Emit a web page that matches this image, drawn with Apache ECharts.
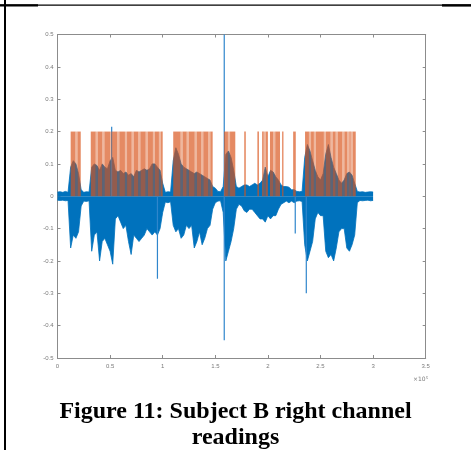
<!DOCTYPE html>
<html>
<head>
<meta charset="utf-8">
<script src="https://cdn.jsdelivr.net/npm/echarts@6/dist/echarts.min.js"></script>
<style>
  html, body { margin: 0; padding: 0; background: #fff; }
  #chart { width: 471px; height: 450px; }
</style>
</head>
<body>
<div id="chart"></div>
<script>
// x in units of 1e5 samples, one envelope value every STEP
const STEP = 0.025;

// upper envelope of the signal
const upper = [
  0.013, 0.014, 0.012, 0.015, 0.012, 0.09, 0.11, 0.10, 0.07, 0.02,
  0.012, 0.014, 0.013, 0.09, 0.10, 0.095, 0.08, 0.10, 0.09, 0.085,
  0.11, 0.12, 0.08, 0.075, 0.08, 0.07, 0.075, 0.065, 0.07, 0.06,
  0.08, 0.075, 0.08, 0.085, 0.08, 0.085, 0.10, 0.10, 0.09, 0.08,
  0.04, 0.012, 0.014, 0.013, 0.11, 0.15, 0.13, 0.10, 0.09, 0.085,
  0.08, 0.075, 0.07, 0.075, 0.07, 0.065, 0.06, 0.055, 0.05, 0.03,
  0.025, 0.015, 0.014, 0.03, 0.13, 0.14, 0.12, 0.08, 0.03, 0.025,
  0.03, 0.035, 0.035, 0.03, 0.035, 0.04, 0.035, 0.04, 0.05, 0.09,
  0.06, 0.08, 0.075, 0.06, 0.05, 0.035, 0.03, 0.03, 0.028, 0.02,
  0.02, 0.015, 0.014, 0.015, 0.12, 0.16, 0.14, 0.11, 0.08, 0.06,
  0.05, 0.07, 0.13, 0.16, 0.12, 0.09, 0.07, 0.05, 0.04, 0.05,
  0.07, 0.075, 0.065, 0.04, 0.015, 0.013, 0.014, 0.012, 0.013, 0.014,
  0.013
];

// lower envelope of the signal
const lower = [
  -0.012, -0.013, -0.012, -0.014, -0.013, -0.16, -0.12, -0.13, -0.11, -0.03,
  -0.015, -0.016, -0.014, -0.17, -0.12, -0.11, -0.20, -0.14, -0.13, -0.15,
  -0.17, -0.21, -0.07, -0.06, -0.08, -0.10, -0.09, -0.14, -0.18, -0.12,
  -0.13, -0.14, -0.13, -0.12, -0.10, -0.11, -0.12, -0.11, -0.12, -0.10,
  -0.05, -0.018, -0.02, -0.017, -0.09, -0.11, -0.10, -0.13, -0.12, -0.09,
  -0.10, -0.09, -0.16, -0.14, -0.11, -0.15, -0.13, -0.10, -0.09, -0.04,
  -0.02, -0.015, -0.014, -0.05, -0.20, -0.17, -0.14, -0.10, -0.04, -0.025,
  -0.03, -0.045, -0.05, -0.04, -0.04, -0.05, -0.06, -0.07, -0.07, -0.08,
  -0.06, -0.07, -0.06, -0.06, -0.04, -0.025, -0.02, -0.015, -0.02, -0.015,
  -0.02, -0.015, -0.014, -0.016, -0.15, -0.20, -0.17, -0.14, -0.07, -0.05,
  -0.06, -0.06, -0.17, -0.19, -0.18, -0.20, -0.16, -0.11, -0.10, -0.10,
  -0.16, -0.17, -0.15, -0.12, -0.02, -0.013, -0.014, -0.013, -0.012, -0.014,
  -0.013
];

// isolated spikes: position, top, bottom
const spikeX      = [1.585, 0.515, 0.95, 2.365, 2.26];
const spikeTop    = [0.5, 0.215, 0, 0, 0];
const spikeBottom = [-0.445, 0, -0.255, -0.3, -0.115];

// orange on/off indicator, level 0.2
const INDICATOR = 0.2;
const blockStart = [0.125, 0.316, 1.10, 1.583, 1.775, 1.90, 1.945, 2.02, 2.135, 2.24, 2.353];
const blockEnd   = [0.221, 1.000, 1.475, 1.690, 1.790, 1.915, 2.000, 2.115, 2.148, 2.265, 2.835];
// lighter stripes inside the blocks
const stripes = [0.18, 0.373, 0.436, 0.509, 0.578, 0.651, 0.715, 0.778, 0.848, 0.917, 0.974,
  1.18, 1.238, 1.314, 1.376, 1.443, 1.63, 1.97, 2.06, 2.4, 2.447, 2.542, 2.606, 2.654, 2.717, 2.764, 2.797];
const STRIPE_W = 0.02;

const xTickLabels = ['0', '0.5', '1', '1.5', '2', '2.5', '3', '3.5'];
const yTickLabels = ['-0.5', '-0.4', '-0.3', '-0.2', '-0.1', '0', '0.1', '0.2', '0.3', '0.4', '0.5'];

const xs = upper.map((_, i) => i * STEP);

// split blocks into solid pieces and light stripes
const solidPieces = [];
const stripePieces = [];
blockStart.forEach((s, b) => {
  const e = blockEnd[b];
  let cur = s;
  stripes.filter(c => c > s && c < e).sort((a, c) => a - c).forEach(c => {
    solidPieces.push([cur, c - STRIPE_W / 2]);
    stripePieces.push([c - STRIPE_W / 2, c + STRIPE_W / 2]);
    cur = c + STRIPE_W / 2;
  });
  solidPieces.push([cur, e]);
});

function rectRender(fill) {
  return function (params, api) {
    const a = api.coord([api.value(0), INDICATOR]);
    const b = api.coord([api.value(1), 0]);
    return {
      type: 'rect',
      shape: { x: a[0], y: a[1], width: Math.max(b[0] - a[0], 0.8), height: b[1] - a[1] },
      style: { fill: fill }
    };
  };
}

const axisGray = '#8c8c8c';
const labelStyle = { fontSize: 6, color: '#7a7a7a', fontFamily: 'Liberation Sans' };

const chart = echarts.init(document.getElementById('chart'), null, { renderer: 'canvas' });
chart.setOption({
  animation: false,
  backgroundColor: '#fff',
  title: {
    text: 'Figure 11: Subject B right channel\nreadings',
    left: 'center',
    top: 394,
    textStyle: {
      fontFamily: 'Liberation Serif',
      fontWeight: 'bold',
      fontSize: 24,
      lineHeight: 26,
      color: '#000'
    }
  },
  grid: { left: 57.5, right: 45.3, top: 34.5, bottom: 92 },
  xAxis: [
    {
      type: 'value', min: 0, max: 3.5, interval: 0.5, position: 'bottom',
      axisLine: { show: true, onZero: false, lineStyle: { color: axisGray, width: 1 } },
      axisTick: { show: true, inside: true, length: 3, lineStyle: { color: axisGray } },
      axisLabel: Object.assign({ margin: 5, formatter: v => xTickLabels[Math.round(v / 0.5)] }, labelStyle),
      splitLine: { show: false }
    },
    {
      type: 'value', min: 0, max: 3.5, interval: 0.5, position: 'top',
      axisLine: { show: true, onZero: false, lineStyle: { color: axisGray, width: 1 } },
      axisTick: { show: true, inside: true, length: 3, lineStyle: { color: axisGray } },
      axisLabel: { show: false },
      splitLine: { show: false }
    }
  ],
  yAxis: [
    {
      type: 'value', min: -0.5, max: 0.5, interval: 0.1, position: 'left',
      axisLine: { show: true, onZero: false, lineStyle: { color: axisGray, width: 1 } },
      axisTick: { show: true, inside: true, length: 3, lineStyle: { color: axisGray } },
      axisLabel: Object.assign({ margin: 4, formatter: v => yTickLabels[Math.round((v + 0.5) / 0.1)] }, labelStyle),
      splitLine: { show: false }
    },
    {
      type: 'value', min: -0.5, max: 0.5, interval: 0.1, position: 'right',
      axisLine: { show: true, onZero: false, lineStyle: { color: axisGray, width: 1 } },
      axisTick: { show: true, inside: true, length: 3, lineStyle: { color: axisGray } },
      axisLabel: { show: false },
      splitLine: { show: false }
    }
  ],
  graphic: [
    { type: 'rect', shape: { x: 4, y: 0, width: 2, height: 450 }, style: { fill: '#000' } },
    { type: 'rect', shape: { x: 0, y: 4.5, width: 471, height: 1.2 }, style: { fill: '#000' } },
    { type: 'rect', shape: { x: 0, y: 4.2, width: 38, height: 2.2 }, style: { fill: '#000' } },
    { type: 'rect', shape: { x: 442, y: 4.2, width: 29, height: 2.4 }, style: { fill: '#000' } },
    {
      type: 'text', left: 413, top: 376,
      style: { text: '×10⁵', fontSize: 6, fill: '#7a7a7a', fontFamily: 'DejaVu Sans' }
    }
  ],
  series: [
    {
      name: 'upper', type: 'line', symbol: 'none', silent: true, z: 2,
      data: xs.map((x, i) => [x, upper[i]]),
      lineStyle: { color: '#0072BD', width: 0.8 },
      areaStyle: { color: '#0072BD', opacity: 1, origin: 0 }
    },
    {
      name: 'lower', type: 'line', symbol: 'none', silent: true, z: 2,
      data: xs.map((x, i) => [x, lower[i]]),
      lineStyle: { color: '#0072BD', width: 0.8 },
      areaStyle: { color: '#0072BD', opacity: 1, origin: 0 }
    },
    {
      name: 'spikes', type: 'custom', silent: true, z: 3,
      data: spikeX.map((x, i) => [x, spikeTop[i], spikeBottom[i]]),
      encode: { x: 0, y: [1, 2] },
      renderItem: function (params, api) {
        const a = api.coord([api.value(0), api.value(1)]);
        const b = api.coord([api.value(0), api.value(2)]);
        return {
          type: 'line',
          shape: { x1: a[0], y1: a[1], x2: b[0], y2: b[1] },
          style: { stroke: '#2f86cc', lineWidth: 1.2 }
        };
      }
    },
    {
      name: 'indicator', type: 'custom', silent: true, z: 5,
      data: solidPieces,
      encode: { x: [0, 1] },
      renderItem: rectRender('rgba(217,83,25,0.68)')
    },
    {
      name: 'indicatorLight', type: 'custom', silent: true, z: 5,
      data: stripePieces,
      encode: { x: [0, 1] },
      renderItem: rectRender('rgba(217,83,25,0.42)')
    }
  ]
});
</script>
</body>
</html>
